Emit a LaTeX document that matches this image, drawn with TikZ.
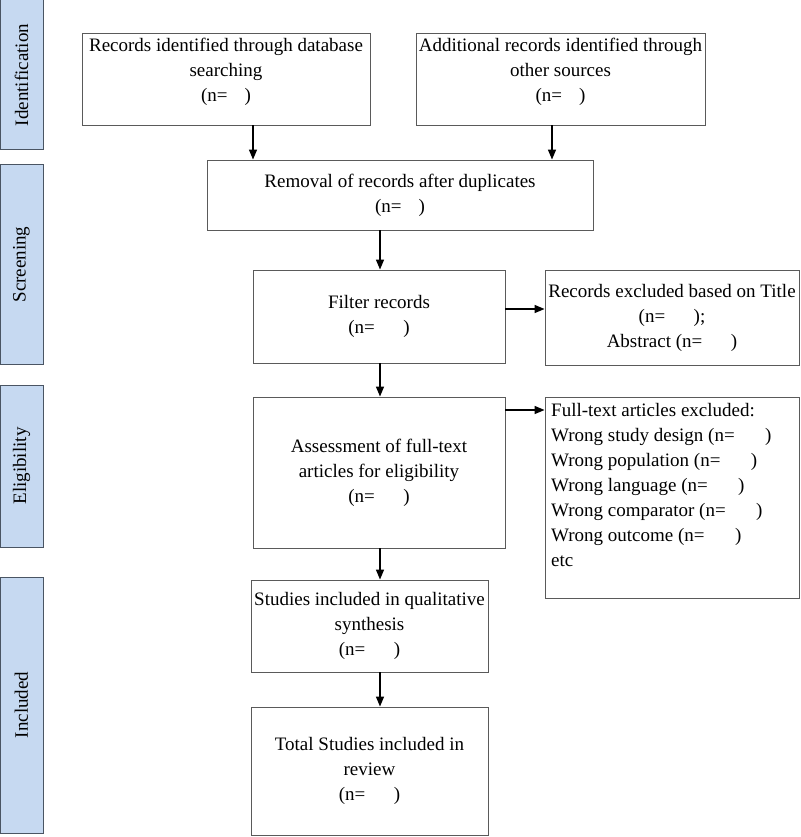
\documentclass[tikz,border=0pt]{standalone}
\usepackage{fontspec}
\setmainfont{Liberation Serif}
\usetikzlibrary{arrows.meta}
\definecolor{barfill}{HTML}{C6D9F1}
\definecolor{barline}{HTML}{4A5563}
\definecolor{boxline}{HTML}{5A5A5A}
\begin{document}
\begin{tikzpicture}[x=1pt,y=-1pt,
  every node/.style={font=\fontsize{19}{25}\selectfont},
  stage/.style={draw=barline,line width=1pt,fill=barfill,inner sep=0pt},
  stagelabel/.style={rotate=90,inner sep=0pt},
  flowbox/.style={draw=boxline,line width=0.9pt,align=center,inner sep=1pt},
  conn/.style={line width=1.4pt,-{Triangle[width=8pt,length=10pt]}}]
\useasboundingbox (0,0) rectangle (800,837);
% stage bars
\node[stage,minimum width=43pt,minimum height=150pt] (s1) at (21.5,75) {};
\node[stagelabel] at (s1.center) {Identification};
\node[stage,minimum width=43pt,minimum height=199pt] (s2) at (21.5,264.5) {};
\node[stagelabel] at (s2.center) {Screening};
\node[stage,minimum width=43pt,minimum height=162pt] (s3) at (21.5,466) {};
\node[stagelabel] at (s3.center) {Eligibility};
\node[stage,minimum width=43pt,minimum height=256pt] (s4) at (21.5,705) {};
\node[stagelabel] at (s4.center) {Included};
% boxes
\node[flowbox,minimum width=288pt,minimum height=92pt] (a) at (226,79)
  {Records identified through database\\searching\\(n=\hspace{0.9em})\\[-6pt]};
\node[flowbox,minimum width=289pt,minimum height=92pt] (b) at (560.5,79)
  {Additional records identified through\\other sources\\(n=\hspace{0.9em})\\[-6pt]};
\node[flowbox,minimum width=386pt,minimum height=70pt] (c) at (400,195)
  {Removal of records after duplicates\\(n=\hspace{0.9em})};
\node[flowbox,minimum width=252pt,minimum height=93pt] (d) at (379,316.5)
  {Filter records\\(n=\hspace{1.5em})};
\node[flowbox,minimum width=254pt,minimum height=95pt] (e) at (672,317.5)
  {Records excluded based on Title\\(n=\hspace{1.5em});\\Abstract (n=\hspace{1.5em})};
\node[flowbox,minimum width=252pt,minimum height=151pt] (f) at (379,472.5)
  {Assessment of full-text\\articles for eligibility\\(n=\hspace{1.5em})};
\node[draw=boxline,line width=0.9pt,minimum width=254pt,minimum height=201pt] (g) at (672,497.5) {};
\node[anchor=north west,align=left,inner sep=0pt] (gt) at (551,403)
  {Full-text articles excluded:\\Wrong study design (n=\hspace{1.6em})\\Wrong population (n=\hspace{1.6em})\\Wrong language (n=\hspace{1.6em})\\Wrong comparator (n=\hspace{1.6em})\\Wrong outcome (n=\hspace{1.6em})\\etc};
\node[flowbox,minimum width=237pt,minimum height=92pt] (h) at (369.5,626)
  {Studies included in qualitative\\synthesis\\(n=\hspace{1.5em})};
\node[flowbox,minimum width=237pt,minimum height=128pt] (i) at (369.5,771)
  {Total Studies included in\\review\\(n=\hspace{1.5em})};
% connectors
\draw[conn] (a.south -| 253,0) -- (c.north -| 253,0);
\draw[conn] (b.south -| 552,0) -- (c.north -| 552,0);
\draw[conn] (c.south -| 380,0) -- (d.north -| 380,0);
\draw[conn] (d.east |- 0,309) -- (e.west |- 0,309);
\draw[conn] (d.south -| 380,0) -- (f.north -| 380,0);
\draw[conn] (f.east |- 0,410) -- (g.west |- 0,410);
\draw[conn] (f.south -| 380,0) -- (h.north -| 380,0);
\draw[conn] (h.south -| 380,0) -- (i.north -| 380,0);
\end{tikzpicture}
\end{document}
